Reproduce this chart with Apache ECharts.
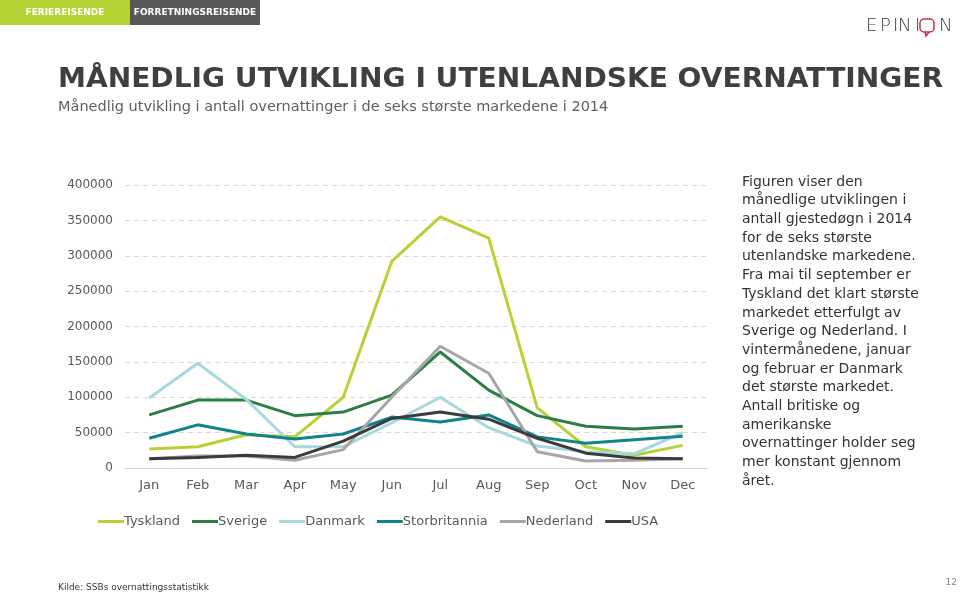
<!DOCTYPE html>
<html><head><meta charset="utf-8">
<script src="https://cdn.jsdelivr.net/npm/echarts@6/dist/echarts.min.js"></script>
<style>html,body{margin:0;padding:0;background:#fff}#c{width:960px;height:593px}</style>
</head><body><div id="c"></div>
<script>
const months = ['Jan','Feb','Mar','Apr','May','Jun','Jul','Aug','Sep','Oct','Nov','Dec'];
const tyskland = [27000,30000,47000,44000,100000,292000,355000,325000,85000,30000,18000,32000];
const sverige = [75000,96000,96000,74000,79000,103000,164000,110000,74000,59000,55000,59000];
const danmark = [99000,148000,97000,30000,30000,64000,100000,57000,31000,23000,20000,50000];
const storbritannia = [42000,61000,48000,41000,48000,72000,65000,75000,44000,35000,40000,45000];
const nederland = [13000,17000,17000,11000,26000,100000,172000,134000,23000,10000,11000,13000];
const usa = [13000,15000,18000,15000,38000,70000,79000,69000,42000,21000,14000,13000];
const seriesNames = ['Tyskland','Sverige','Danmark','Storbritannia','Nederland','USA'];
const seriesColors = ['#b5d334','#2b7f45','#a7d9dc','#12838a','#a6a6a6','#3b3b3d'];
const seriesData = [tyskland,sverige,danmark,storbritannia,nederland,usa];
const bodyLines = ['Figuren viser den','månedlige utviklingen i','antall gjestedøgn i 2014','for de seks største','utenlandske markedene.','Fra mai til september er','Tyskland det klart største','markedet etterfulgt av','Sverige og Nederland. I','vintermånedene, januar','og februar er Danmark','det største markedet.','Antall britiske og','amerikanske','overnattinger holder seg','mer konstant gjennom','året.'];

const F = 'Verdana, "DejaVu Sans", sans-serif';
const chart = echarts.init(document.getElementById('c'));
const graphics = [
  {type:'rect',shape:{x:0,y:0,width:130,height:25},style:{fill:'#b5d334'}},
  {type:'rect',shape:{x:130,y:0,width:130,height:25},style:{fill:'#58585a'}},
  {type:'text',x:65,y:12.5,style:{text:'FERIEREISENDE',fill:'#fff',font:'bold 9px '+F,textAlign:'center',textVerticalAlign:'middle'}},
  {type:'text',x:195,y:12.5,style:{text:'FORRETNINGSREISENDE',fill:'#fff',font:'bold 9px '+F,textAlign:'center',textVerticalAlign:'middle'}},
  {type:'text',x:58,y:80,scaleX:1.08,style:{text:'MÅNEDLIG UTVIKLING I UTENLANDSKE OVERNATTINGER',fill:'#3f3f3f',font:'bold 26px '+F,textVerticalAlign:'middle'}},
  {type:'text',x:58,y:107,style:{text:'Månedlig utvikling i antall overnattinger i de seks største markedene i 2014',fill:'#5f5f5f',font:'14.5px '+F,textVerticalAlign:'middle'}},
  {type:'text',x:58,y:588,style:{text:'Kilde: SSBs overnattingsstatistikk',fill:'#333',font:'9px '+F,textVerticalAlign:'middle'}},
  {type:'text',x:957,y:583,style:{text:'12',fill:'#888',font:'9px '+F,textAlign:'right',textVerticalAlign:'middle'}}
];
// logo
const logo = [['E',866],['P',880],['I',893],['N',898],['I',915],['N',939]];
logo.forEach(l=>graphics.push({type:'text',x:l[1],y:26,style:{text:l[0],fill:'#3a3a3a',font:'200 18px "DejaVu Sans", sans-serif',textVerticalAlign:'middle'}}));
graphics.push({type:'rect',shape:{x:920,y:19,width:14,height:13,r:4},style:{fill:'none',stroke:'#c0334a',lineWidth:1.5}});
graphics.push({type:'polyline',shape:{points:[[925,32],[926,36],[929,32]]},style:{fill:'none',stroke:'#c0334a',lineWidth:1.5}});
bodyLines.forEach((t,i)=>graphics.push({type:'text',x:742,y:182+i*18.7,style:{text:t,fill:'#333',font:'14px '+F,textVerticalAlign:'middle'}}));

chart.setOption({
  animation:false,
  textStyle:{fontFamily:F},
  graphic:graphics,
  legend:{left:93,top:510,itemWidth:26,itemHeight:3,itemGap:12,icon:'rect',
    textStyle:{color:'#595959',fontSize:13,padding:[0,0,0,-5]},
    data:seriesNames},
  grid:{left:125,right:253,top:185,bottom:125},
  xAxis:{type:'category',data:months,boundaryGap:true,
    axisLine:{lineStyle:{color:'#d9d9d9',width:1}},axisTick:{show:false},
    axisLabel:{color:'#595959',fontSize:13,margin:11}},
  yAxis:{type:'value',min:0,max:400000,interval:50000,
    axisLine:{show:false},axisTick:{show:false},
    axisLabel:{color:'#595959',fontSize:12,margin:12,formatter:v=>String(v)},
    splitLine:{lineStyle:{color:'#d9d9d9',type:[5,4],width:1}}},
  series:seriesNames.map((n,i)=>({name:n,type:'line',data:seriesData[i],symbol:'none',
    lineStyle:{color:seriesColors[i],width:3},itemStyle:{color:seriesColors[i]}}))
});
</script></body></html>
